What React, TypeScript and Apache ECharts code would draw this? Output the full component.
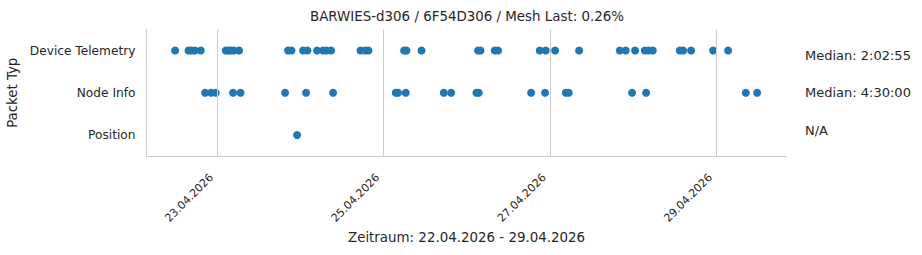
import React, { useEffect, useRef } from "react";
import * as echarts from "echarts";

const TITLE = "BARWIES-d306 / 6F54D306 / Mesh Last: 0.26%";
const X_NAME = "Zeitraum: 22.04.2026 - 29.04.2026";
const Y_NAME = "Packet Typ";

const categories = ["Position", "Node Info", "Device Telemetry"];

const deviceTelemetryTimes = [
  "2026-04-22T11:53", "2026-04-22T15:45", "2026-04-22T16:37", "2026-04-22T17:34", "2026-04-22T19:18",
  "2026-04-23T02:31", "2026-04-23T03:17", "2026-04-23T03:57", "2026-04-23T04:49", "2026-04-23T06:21",
  "2026-04-23T20:29", "2026-04-23T21:28",
  "2026-04-24T00:49", "2026-04-24T02:05", "2026-04-24T04:51", "2026-04-24T06:35", "2026-04-24T07:34", "2026-04-24T08:54",
  "2026-04-24T17:23", "2026-04-24T18:49", "2026-04-24T19:41",
  "2026-04-25T05:58", "2026-04-25T06:39", "2026-04-25T10:59",
  "2026-04-26T03:19", "2026-04-26T04:01", "2026-04-26T08:08", "2026-04-26T09:05",
  "2026-04-26T21:07", "2026-04-26T22:51",
  "2026-04-27T01:32", "2026-04-27T08:28", "2026-04-27T20:13", "2026-04-27T21:56",
  "2026-04-28T00:37", "2026-04-28T03:25", "2026-04-28T04:29", "2026-04-28T05:44",
  "2026-04-28T13:31", "2026-04-28T14:29", "2026-04-28T16:47", "2026-04-28T23:08",
  "2026-04-29T03:28",
];

const nodeInfoTimes = [
  "2026-04-22T20:32", "2026-04-22T22:16", "2026-04-22T23:37",
  "2026-04-23T04:37", "2026-04-23T06:45", "2026-04-23T19:37",
  "2026-04-24T01:41", "2026-04-24T09:28",
  "2026-04-25T03:34", "2026-04-25T04:14", "2026-04-25T06:27", "2026-04-25T17:25", "2026-04-25T19:32",
  "2026-04-26T02:51", "2026-04-26T03:31", "2026-04-26T18:37", "2026-04-26T22:39",
  "2026-04-27T04:37", "2026-04-27T05:29", "2026-04-27T23:45",
  "2026-04-28T03:48",
  "2026-04-29T08:34", "2026-04-29T11:50",
];

const positionTimes = ["2026-04-23T23:05"];

const tickDates = ["2026-04-23", "2026-04-25", "2026-04-27", "2026-04-29"];
const axisMin = "2026-04-22T03:38";
const axisMax = "2026-04-29T20:19";

// top to bottom: Device Telemetry, Node Info, Position
const medianLabels = ["Median: 2:02:55", "Median: 4:30:00", "N/A"];

function toUtc(s: string): number {
  const [d, t] = s.split("T");
  const [y, m, day] = d.split("-").map(Number);
  const [hh, mm] = (t || "00:00").split(":").map(Number);
  return Date.UTC(y, m - 1, day, hh, mm);
}

function fmtDate(v: number): string {
  const d = new Date(v);
  const dd = String(d.getUTCDate()).padStart(2, "0");
  const mm = String(d.getUTCMonth() + 1).padStart(2, "0");
  return `${dd}.${mm}.${d.getUTCFullYear()}`;
}

const FONT = "DejaVu Sans";
const TEXT = "#262626";
const GRID = "#cccccc";

export default function App() {
  const ref = useRef<HTMLDivElement>(null);
  useEffect(() => {
    document.body.style.margin = "0";
    if (!ref.current) return;
    const chart = echarts.init(ref.current, undefined, { renderer: "svg" });
    const ticks = tickDates.map(toUtc);
    const pts = (arr: string[], cat: string) => arr.map((s) => [toUtc(s), cat]);
    const medianY = [55, 92.5, 130];
    chart.setOption({
      animation: false,
      textStyle: { fontFamily: FONT, color: TEXT },
      title: {
        text: TITLE,
        left: 467,
        textAlign: "center",
        top: 10,
        padding: 0,
        textStyle: { fontFamily: FONT, fontSize: 13.4, fontWeight: "normal", color: TEXT },
      },
      grid: {
        left: 146.5,
        right: 135.5,
        top: 29.5,
        bottom: 99,
        containLabel: false,
        outerBoundsMode: "none",
      },
      xAxis: {
        type: "value",
        min: toUtc(axisMin),
        max: toUtc(axisMax),
        name: X_NAME,
        nameLocation: "middle",
        nameGap: 75,
        nameTextStyle: { fontFamily: FONT, fontSize: 13.4, color: TEXT, verticalAlign: "top" },
        axisLine: { show: true, lineStyle: { color: GRID, width: 1 } },
        axisTick: { show: false, customValues: ticks },
        splitLine: { show: false },
        axisLabel: {
          customValues: ticks,
          rotate: 45,
          margin: 14,
          padding: [0, 8, 0, 0],
          fontFamily: FONT,
          fontSize: 11,
          color: TEXT,
          formatter: (v: number) => fmtDate(v),
        },
      },
      yAxis: {
        type: "category",
        data: categories,
        boundaryGap: true,
        name: Y_NAME,
        nameLocation: "middle",
        nameGap: 121,
        nameTextStyle: { fontFamily: FONT, fontSize: 13.3, color: TEXT },
        axisLine: { show: true, lineStyle: { color: GRID, width: 1 } },
        axisTick: { show: false },
        splitLine: { show: false },
        axisLabel: { margin: 11, fontFamily: FONT, fontSize: 12.2, color: TEXT },
      },
      series: [
        {
          type: "scatter",
          data: [],
          silent: true,
          z: 1,
          markLine: {
            silent: true,
            symbol: "none",
            label: { show: false },
            lineStyle: { color: GRID, width: 1, type: "solid" },
            data: ticks.map((t) => ({ xAxis: t })),
          },
        },
        {
          type: "scatter",
          z: 3,
          symbolSize: 8,
          itemStyle: { color: "#1f77b4", opacity: 1 },
          data: [
            ...pts(deviceTelemetryTimes, "Device Telemetry"),
            ...pts(nodeInfoTimes, "Node Info"),
            ...pts(positionTimes, "Position"),
          ],
        },
      ],
      graphic: medianLabels.map((t, i) => ({
        type: "text",
        x: 805,
        y: medianY[i],
        style: { text: t, fontFamily: FONT, fontSize: 13, fill: TEXT, verticalAlign: "middle" },
      })),
    });
    return () => chart.dispose();
  }, []);
  return <div ref={ref} style={{ width: 922, height: 255 }} />;
}
